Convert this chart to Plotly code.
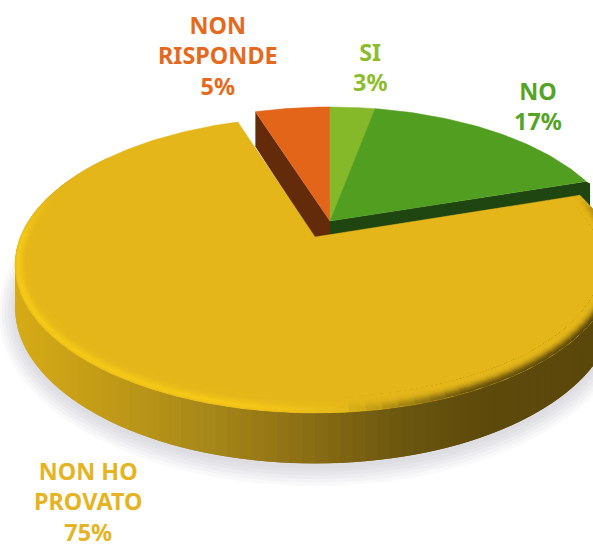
import math
import numpy as np
import plotly.graph_objects as go

# ---- data (clockwise from 12 o'clock) ----
labels = ["SI", "NO", "NON HO<br>PROVATO", "NON<br>RISPONDE"]
shares = [3, 17, 75, 5]
face_colors = ["#86b92a", "#529e20", "#e4b61a", "#e3651a"]
text_colors = ["#8dbd2c", "#55a426", "#e6b422", "#e66a1e"]
label_xy = [(370, 67), (538, 106), (88, 501), (218, 55)]

# ---- projection of the pie plane ----
K = 0.189
DEPTH = 41
W, H = 593, 544


def project(cx, cy, A, B, theta, su=1.0, sv=1.0, depth=0.0):
    t = np.radians(theta)
    u, v = np.sin(t), -np.cos(t)
    d = 1 - K * v
    return cx + A * su * u / d, cy + (B * sv * v + depth) / d


def mix(a, b, t):
    a = [int(a[i:i + 2], 16) for i in (1, 3, 5)]
    b = [int(b[i:i + 2], 16) for i in (1, 3, 5)]
    return "#%02x%02x%02x" % tuple(round(p + (q - p) * t) for p, q in zip(a, b))


def ramp(x, stops):
    if x <= stops[0][0]:
        return stops[0][1]
    for (x0, c0), (x1, c1) in zip(stops, stops[1:]):
        if x <= x1:
            return mix(c0, c1, (x - x0) / (x1 - x0))
    return stops[-1][1]


fig = go.Figure()


def poly(xs, ys, color, lw=0.0):
    fig.add_trace(go.Scatter(
        x=list(xs), y=list(ys), mode="lines", fill="toself", fillcolor=color,
        line=dict(color=color, width=lw), hoverinfo="skip", showlegend=False))


# slice angles
edges = np.cumsum([0] + shares) * 3.6
si, no, yellow, orange = [(edges[i], edges[i + 1]) for i in range(4)]

BACK = dict(cx=330, cy=221, A=285, B=135.6)
FRONT = dict(cx=315, cy=237, A=294.6, B=142.7)

# ---- soft shadow ----
ts = np.linspace(yellow[0], yellow[1], 160)
for w in (16, 13, 10, 7, 4, 1):
    sx, sy = project(**FRONT, theta=ts, su=1 + w / 295, sv=1 + w / 150, depth=DEPTH + 3)
    poly(sx, sy, "rgba(120,125,130,0.045)")

# ---- back group: cut walls then faces ----
ax, ay = BACK["cx"], BACK["cy"]
tx, ty = project(**BACK, theta=no[1])
bx, by = project(**BACK, theta=no[1], depth=DEPTH)
poly([ax, tx, tx + 4, bx + 4, ax], [ay, ty, ty + 2, by - 10, ay + DEPTH], "#1f4510")
tx, ty = project(**BACK, theta=orange[0])
bx, by = project(**BACK, theta=orange[0], depth=DEPTH)
poly([ax, tx, bx, ax], [ay, ty, by, ay + DEPTH], "#642b0a")

for (a, b), col in ((orange, face_colors[3]), (si, face_colors[0]), (no, face_colors[1])):
    t = np.linspace(a, b, 60)
    x, y = project(**BACK, theta=t)
    poly([ax, *x, ax], [ay, *y, ay], col, 0.5)

# ---- front slice: outer wall with horizontal shading ----
WALL_STOPS = [(15, "#d6ab16"), (100, "#c39c17"), (200, "#a98919"), (300, "#8d7015"),
              (400, "#6c570f"), (480, "#5e4a0b"), (593, "#5a470a")]
t_edges = np.linspace(yellow[0], yellow[1], 136)
step = t_edges[1] - t_edges[0]
for t0, t1 in zip(t_edges[:-1], t_edges[1:]):
    t2 = min(t1 + step, yellow[1])     # overlap the next piece so no seams show
    x0, y0 = project(**FRONT, theta=t0)
    x1, y1 = project(**FRONT, theta=t2)
    x2, y2 = project(**FRONT, theta=t2, depth=DEPTH)
    x3, y3 = project(**FRONT, theta=t0, depth=DEPTH)
    if max(y2, y3) < 200:
        continue
    xm = project(**FRONT, theta=(t0 + t1) / 2)[0]
    poly([x0, x1, x2, x3], [y0, y1, y2, y3], ramp(xm, WALL_STOPS))

# ---- front slice: flat face ----
FACE = face_colors[2]
t = np.linspace(yellow[0], yellow[1], 240)
x, y = project(**FRONT, theta=t)
fx, fy = FRONT["cx"], FRONT["cy"]
poly([fx, *x, fx], [fy, *y, fy], FACE, 0.5)

# ---- bevel along the rim: nested bands, outermost first ----
RIM_STOPS = [(0, "#f6cb18"), (250, "#f6ca18"), (340, "#e8bb1a"), (400, "#a98a14"), (470, "#6a540d"), (593, "#5e4a0b")]
light_profile = [0.5, 0.75, 0.9, 0.9, 0.78, 0.62, 0.47, 0.34, 0.23, 0.14, 0.07, 0.03]
dark_profile = [1.0, 0.95, 0.85, 0.72, 0.56, 0.4, 0.27, 0.16, 0.08, 0.03, 0.0, 0.0]
seg = np.linspace(yellow[0], yellow[1], 101)
seg_step = seg[1] - seg[0]
for i in range(len(light_profile)):
    for t0, t1 in zip(seg[:-1], seg[1:]):
        tm = (t0 + t1) / 2
        v = -math.cos(math.radians(tm))
        s = float(np.clip(1 + v / 0.3, 0, 1))
        if s <= 0:
            continue
        t2 = min(t1 + seg_step * 0.5, yellow[1])
        xm = project(**FRONT, theta=tm)[0]
        dark = float(np.clip((xm - 330) / 60, 0, 1))
        alpha = light_profile[i] * (1 - dark) + dark_profile[i] * dark
        xa, ya = project(**FRONT, theta=t0, su=1 - i / 295, sv=1 - i / 150)
        xb, yb = project(**FRONT, theta=t2, su=1 - i / 295, sv=1 - i / 150)
        xc, yc = project(**FRONT, theta=t2, su=1 - 13 / 295, sv=1 - 13 / 150)
        xd, yd = project(**FRONT, theta=t0, su=1 - 13 / 295, sv=1 - 13 / 150)
        poly([xa, xb, xc, xd], [ya, yb, yc, yd], mix(FACE, ramp(xm, RIM_STOPS), alpha * s))

# ---- labels ----
for lab, share, col, (lx, ly) in zip(labels, shares, text_colors, label_xy):
    fig.add_annotation(x=lx, y=ly, xref="x", yref="y", text=f"{lab}<br>{share}%", showarrow=False,
                       xanchor="center", yanchor="middle", align="center",
                       font=dict(family="Noto Sans", size=23.4, color=col, weight="bold"))

fig.update_layout(
    width=W, height=H, autosize=False, margin=dict(l=0, r=0, t=0, b=0),
    paper_bgcolor="white", plot_bgcolor="white", showlegend=False,
    xaxis=dict(range=[0, W], visible=False, fixedrange=True),
    yaxis=dict(range=[H, 0], visible=False, fixedrange=True),
)
fig.write_html("out.html", config=dict(displayModeBar=False),
               post_script="document.body.style.margin='0';")
